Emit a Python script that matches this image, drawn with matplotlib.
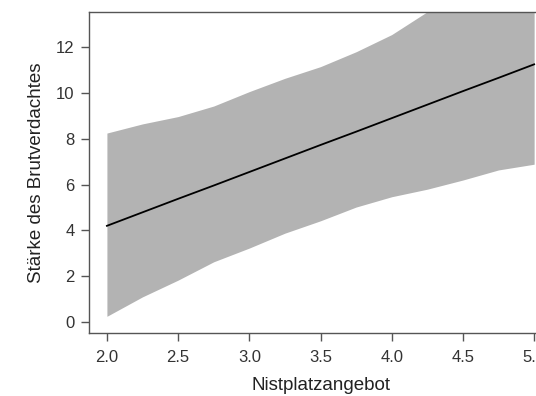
import matplotlib
matplotlib.use("Agg")
import matplotlib.pyplot as plt
import numpy as np

plt.rcParams['font.family'] = ['Liberation Sans', 'DejaVu Sans']

# Nistplatzangebot (x) and model fit with confidence band
x_vals = [2.0, 2.25, 2.5, 2.75, 3.0, 3.25, 3.5, 3.75, 4.0, 4.25, 4.5, 4.75, 5.0]
fit = [4.2, 4.79, 5.38, 5.96, 6.55, 7.14, 7.73, 8.31, 8.9, 9.49, 10.08, 10.66, 11.25]
upper = [8.25, 8.65, 8.97, 9.43, 10.06, 10.64, 11.15, 11.8, 12.55, 13.55, 14.1, 14.8, 15.6]
lower = [0.25, 1.1, 1.83, 2.63, 3.23, 3.88, 4.42, 5.02, 5.47, 5.8, 6.2, 6.64, 6.89]

xticks = [2.0, 2.5, 3.0, 3.5, 4.0, 4.5, 5.0]
yticks = [0, 2, 4, 6, 8, 10, 12]

fig = plt.figure(figsize=(5.36, 3.96), dpi=100)
ax = fig.add_axes([0.166, 0.159, 0.864, 0.811])

ax.fill_between(x_vals, lower, upper, color='#b3b3b3', linewidth=0)
ax.plot(x_vals, fit, color='black', linewidth=1.3)

ax.set_xlim(1.874, 5.126)
ax.set_ylim(-0.48, 13.54)
ax.set_xticks(xticks)
ax.set_xticklabels(['%.1f' % v for v in xticks])
ax.set_yticks(yticks)

for side in ['left', 'bottom', 'top', 'right']:
    ax.spines[side].set_color('#555555')
    ax.spines[side].set_linewidth(1.0)

ax.tick_params(direction='out', length=6, width=1.0, color='#555555',
               labelsize=12, labelcolor='#333333', pad=4.5)
ax.tick_params(axis='x', pad=6.5)

ax.set_xlabel('Nistplatzangebot', fontsize=13.5, color='#222222', labelpad=8)
ax.set_ylabel('Stärke des Brutverdachtes', fontsize=13.5, color='#222222', labelpad=8)

fig.savefig('out.png', dpi=100)
